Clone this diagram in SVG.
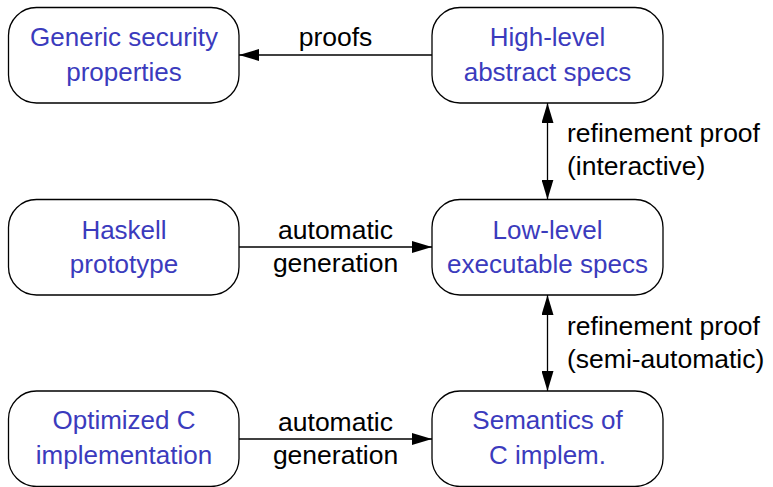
<svg xmlns="http://www.w3.org/2000/svg" width="773" height="487" viewBox="0 0 773 487">
  <style>
    .box { fill: #ffffff; stroke: #000000; stroke-width: 1.3; }
    .node-text { font-family: "Liberation Sans", Arial, sans-serif; font-size: 26px; fill: #3b3bbd; text-anchor: middle; }
    .edge { stroke: #000000; stroke-width: 1.3; fill: none; }
    .edge-label { font-family: "Liberation Sans", Arial, sans-serif; font-size: 26.5px; fill: #000000; }
    .mid { text-anchor: middle; }
  </style>
  <defs>
    <marker id="arrow" viewBox="0 0 20 12" refX="20" refY="6" markerWidth="20" markerHeight="12" markerUnits="userSpaceOnUse" orient="auto-start-reverse">
      <path d="M0,0 L20,6 L0,12 Z" fill="#000000"/>
    </marker>
  </defs>
  <rect width="773" height="487" fill="#ffffff"/>

  <g id="generic-security">
    <rect class="box" x="8.5" y="7.5" width="230.5" height="95.5" rx="28" ry="28"/>
    <text class="node-text" x="124" y="46">Generic security</text>
    <text class="node-text" x="124" y="81">properties</text>
  </g>
  <g id="high-level">
    <rect class="box" x="432" y="7.5" width="231" height="95.5" rx="28" ry="28"/>
    <text class="node-text" x="547.5" y="46">High-level</text>
    <text class="node-text" x="547.5" y="81">abstract specs</text>
  </g>
  <g id="haskell">
    <rect class="box" x="8.5" y="199.5" width="230.5" height="95.5" rx="28" ry="28"/>
    <text class="node-text" x="124" y="239">Haskell</text>
    <text class="node-text" x="124" y="273">prototype</text>
  </g>
  <g id="low-level">
    <rect class="box" x="432" y="199.5" width="231" height="95.5" rx="28" ry="28"/>
    <text class="node-text" x="547.5" y="239">Low-level</text>
    <text class="node-text" x="547.5" y="273">executable specs</text>
  </g>
  <g id="optimized-c">
    <rect class="box" x="8.5" y="391" width="230.5" height="95.5" rx="28" ry="28"/>
    <text class="node-text" x="124" y="429">Optimized C</text>
    <text class="node-text" x="124" y="464">implementation</text>
  </g>
  <g id="semantics-c">
    <rect class="box" x="432" y="391" width="231" height="95.5" rx="28" ry="28"/>
    <text class="node-text" x="547.5" y="429">Semantics of</text>
    <text class="node-text" x="547.5" y="464">C implem.</text>
  </g>

  <g id="connectors">
    <line class="edge" x1="432" y1="55" x2="239" y2="55" marker-end="url(#arrow)"/>
    <text class="edge-label mid" x="335.5" y="46">proofs</text>

    <line class="edge" x1="547.5" y1="103" x2="547.5" y2="199.5" marker-start="url(#arrow)" marker-end="url(#arrow)"/>
    <text class="edge-label" x="567" y="142">refinement proof</text>
    <text class="edge-label" x="567" y="175">(interactive)</text>

    <line class="edge" x1="239" y1="247" x2="432" y2="247" marker-end="url(#arrow)"/>
    <text class="edge-label mid" x="335.5" y="239">automatic</text>
    <text class="edge-label mid" x="335.5" y="272">generation</text>

    <line class="edge" x1="547.5" y1="295" x2="547.5" y2="391" marker-start="url(#arrow)" marker-end="url(#arrow)"/>
    <text class="edge-label" x="567" y="335">refinement proof</text>
    <text class="edge-label" x="567" y="368">(semi-automatic)</text>

    <line class="edge" x1="239" y1="439" x2="432" y2="439" marker-end="url(#arrow)"/>
    <text class="edge-label mid" x="335.5" y="431">automatic</text>
    <text class="edge-label mid" x="335.5" y="464">generation</text>
  </g>
</svg>
